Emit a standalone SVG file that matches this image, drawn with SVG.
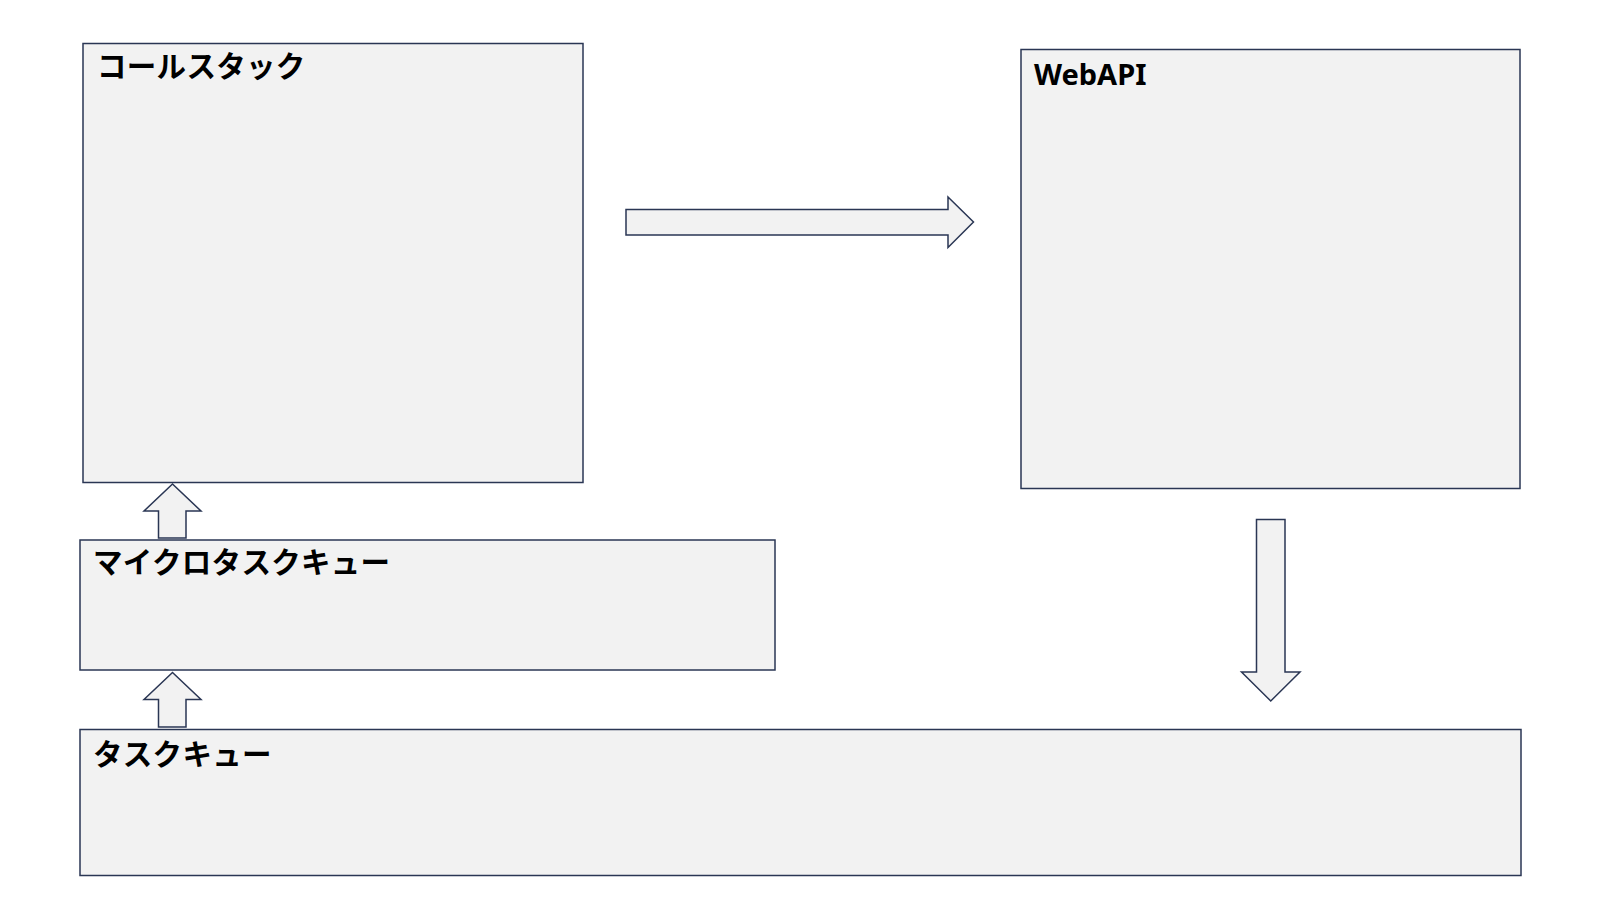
<svg xmlns="http://www.w3.org/2000/svg" width="1600" height="900" viewBox="0 0 1600 900">
<style>
.box{fill:#f2f2f2;stroke:#2a3654;stroke-width:1.5}
.arrow{fill:#f2f2f2;stroke:#2a3654;stroke-width:1.5;stroke-linejoin:miter}
.label{font-family:"Noto Sans CJK JP","Noto Sans",sans-serif;font-weight:bold;font-size:29.5px;letter-spacing:0.3px;fill:#000}
.en{font-family:"Noto Sans","Noto Sans CJK JP",sans-serif;font-weight:bold;font-size:29px;fill:#000}
</style>
<rect width="1600" height="900" fill="#ffffff"/>
<g id="callstack">
<rect class="box" x="83" y="43.5" width="500" height="439"/>
<text class="label" x="97" y="77">コールスタック</text>
</g>
<g id="webapi">
<rect class="box" x="1021" y="49.5" width="499" height="439"/>
<text class="en" x="1034" y="85">WebAPI</text>
</g>
<g id="microtaskqueue">
<rect class="box" x="80" y="540" width="695" height="130"/>
<text class="label" x="93" y="573">マイクロタスクキュー</text>
</g>
<g id="taskqueue">
<rect class="box" x="80" y="729.5" width="1441" height="146"/>
<text class="label" x="93" y="765">タスクキュー</text>
</g>
<g id="connectors">
<path class="arrow" d="M626,209.5 H948 V197 L973.5,222 L948,247.5 V235 H626 Z"/>
<path class="arrow" d="M158.5,538 V511 H144 L172.5,484 L201,511 H186 V538 Z"/>
<path class="arrow" d="M158.5,727 V699.5 H144 L172.5,672.5 L201,699.5 H186 V727 Z"/>
<path class="arrow" d="M1256.5,519.5 H1285 V672 H1300 L1270.75,701 L1241.5,672 H1256.5 Z"/>
</g>
</svg>
